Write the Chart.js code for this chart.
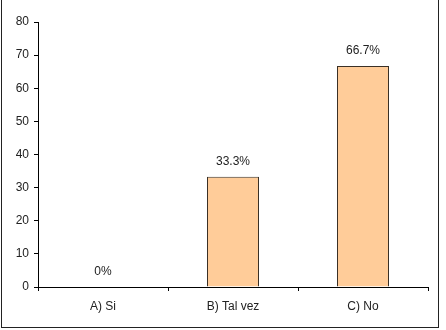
<!DOCTYPE html>
<html>
<head>
<meta charset="utf-8">
<script src="https://cdn.jsdelivr.net/npm/chart.js@4"></script>
<style>
  html, body { margin: 0; padding: 0; background: #fff; }
  #wrap { position: relative; width: 446px; height: 330px; }
  #marco { position: absolute; left: 1px; top: -1px; width: 436px; height: 327px; border: 1px solid #222; pointer-events: none; }
</style>
</head>
<body>
<div id="wrap">
  <canvas id="grafico" width="446" height="330"></canvas>
  <div id="marco"></div>
</div>
<script>
// Datos del gráfico
const categorias = ['A) Si', 'B) Tal vez', 'C) No'];
const valores = [0, 33.3, 66.7];
const etiquetas = ['0%', '33.3%', '66.7%'];
const ticksY = [0, 10, 20, 30, 40, 50, 60, 70, 80];

// Plugin para escribir el porcentaje encima de cada barra
const etiquetasBarras = {
  id: 'etiquetasBarras',
  afterDatasetsDraw(chart) {
    const ctx = chart.ctx;
    const meta = chart.getDatasetMeta(0);
    ctx.save();
    ctx.font = '12px "Liberation Sans", Arial, sans-serif';
    ctx.fillStyle = '#222';
    ctx.textAlign = 'center';
    ctx.textBaseline = 'middle';
    meta.data.forEach((bar, i) => {
      ctx.fillText(etiquetas[i], bar.x, bar.y - 15);
    });
    ctx.restore();
  }
};

const ctx = document.getElementById('grafico').getContext('2d');
const chart = new Chart(ctx, {
  type: 'bar',
  data: {
    labels: categorias,
    datasets: [{
      data: valores,
      backgroundColor: '#FFCC99',
      borderColor: '#3a3026',
      borderWidth: 1,
      borderSkipped: 'bottom',
      categoryPercentage: 1,
      barPercentage: 0.4
    }]
  },
  options: {
    responsive: false,
    animation: false,
    plugins: {
      legend: { display: false },
      tooltip: { enabled: false }
    },
    layout: {
      padding: { left: 0, right: 18, top: 22, bottom: 0 }
    },
    scales: {
      y: {
        min: 0,
        max: 80,
        afterBuildTicks: function(scale) {
          scale.ticks = ticksY.map(v => ({ value: v }));
        },
        afterFit: function(scale) {
          scale.width = 38;
        },
        border: { color: '#000', width: 1 },
        grid: { drawOnChartArea: false, tickLength: 4, color: '#000' },
        ticks: {
          padding: 5,
          color: '#222',
          font: { family: '"Liberation Sans", Arial, sans-serif', size: 12 }
        }
      },
      x: {
        afterFit: function(scale) {
          scale.height = 43;
        },
        border: { color: '#000', width: 1 },
        grid: { drawOnChartArea: false, offset: true, tickLength: 4, color: '#000' },
        ticks: {
          padding: 8,
          color: '#222',
          font: { family: '"Liberation Sans", Arial, sans-serif', size: 12 }
        }
      }
    }
  },
  plugins: [etiquetasBarras]
});
</script>
</body>
</html>
